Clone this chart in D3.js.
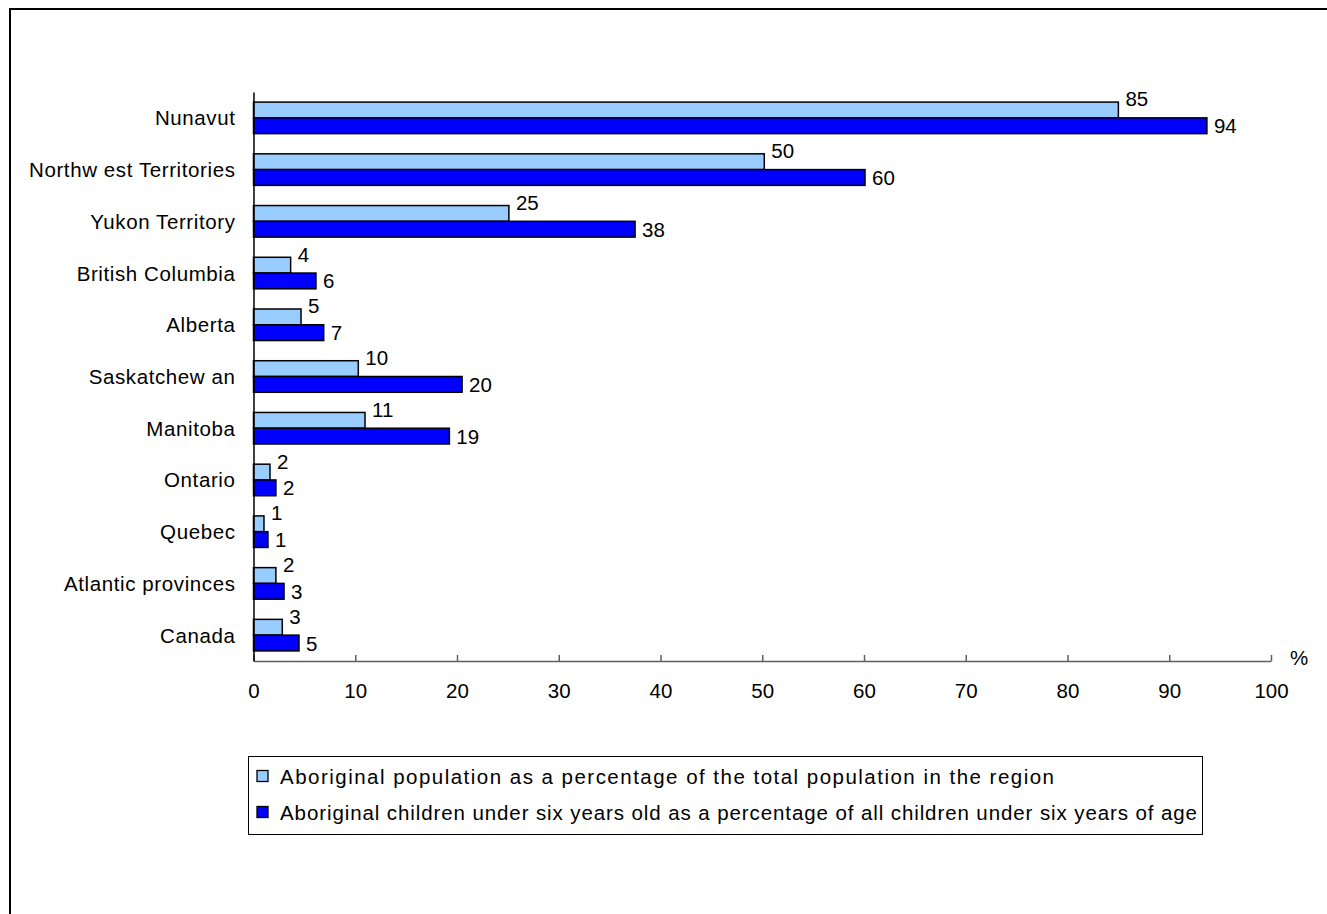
<!DOCTYPE html>
<html>
<head>
<meta charset="utf-8">
<script src="https://cdn.jsdelivr.net/npm/d3@7"></script>
<style>
  html, body { margin: 0; padding: 0; background: #fff; }
  svg { display: block; font-family: "Liberation Sans", Arial, sans-serif; }
</style>
</head>
<body>
<svg id="chart" width="1327" height="914"></svg>
<script>
// ---- data ----
const categories = ["Nunavut", "Northw est Territories", "Yukon Territory", "British Columbia", "Alberta",
  "Saskatchew an", "Manitoba", "Ontario", "Quebec", "Atlantic provinces", "Canada"];
const seriesNames = [
  "Aboriginal population as a percentage of the total population in the region",
  "Aboriginal children under six years old as a percentage of all children under six years of age"
];
const populationValues = [85.0, 50.2, 25.1, 3.65, 4.67, 10.3, 10.96, 1.62, 1.03, 2.2, 2.83];
const childrenValues   = [93.7, 60.1, 37.5, 6.14, 6.9, 20.5, 19.25, 2.2, 1.42, 3.0, 4.47];
const populationLabels = ["85", "50", "25", "4", "5", "10", "11", "2", "1", "2", "3"];
const childrenLabels   = ["94", "60", "38", "6", "7", "20", "19", "2", "1", "3", "5"];
const xTicks = [0, 10, 20, 30, 40, 50, 60, 70, 80, 90, 100];
const seriesColors = ["#99CCFF", "#0000FF"];

const svg = d3.select("#chart");
const FONT = 20.5;
const FAMILY = "'Liberation Sans', Arial, sans-serif";

// outer frame (only top/left visible in reference)
svg.append("rect").attr("x", 10).attr("y", 9).attr("width", 1400).attr("height", 1000)
  .attr("fill", "none").attr("stroke", "#000").attr("stroke-width", 2);

const x = d3.scaleLinear().domain([0, 100]).range([253.5, 1271]);
const y0 = d3.scaleBand().domain(categories).range([92, 661]).paddingInner(0.39).paddingOuter(0.195);
const y1 = d3.scaleBand().domain([0, 1]).range([0, y0.bandwidth()]);

const series = [
  { values: populationValues, labels: populationLabels, color: seriesColors[0], dy: -11 },
  { values: childrenValues, labels: childrenLabels, color: seriesColors[1], dy: 0 }
];

// bars
series.forEach((s, si) => {
  const g = svg.append("g");
  g.selectAll("rect").data(categories).join("rect")
    .attr("x", x(0))
    .attr("y", c => y0(c) + y1(si))
    .attr("width", (c, i) => x(s.values[i]) - x(0))
    .attr("height", y1.bandwidth())
    .attr("fill", s.color)
    .attr("stroke", "#000")
    .attr("stroke-width", 1.5);
  g.selectAll("text").data(categories).join("text")
    .attr("x", (c, i) => x(s.values[i]) + 7)
    .attr("y", c => y0(c) + y1(si) + y1.bandwidth() / 2 + s.dy)
    .attr("dominant-baseline", "central")
    .attr("font-size", FONT)
    .attr("fill", "#000")
    .text((c, i) => s.labels[i]);
});

// x axis
const xAxis = svg.append("g").attr("transform", "translate(0,661)")
  .call(d3.axisBottom(x).tickValues(xTicks).tickSizeInner(-6).tickSizeOuter(0).tickPadding(0));
xAxis.select(".domain").attr("stroke", "#606060").attr("stroke-width", 1.5);
xAxis.selectAll(".tick line").attr("stroke", "#606060").attr("stroke-width", 1.5);
xAxis.selectAll(".tick text").attr("font-size", FONT).attr("fill", "#000")
  .attr("font-family", FAMILY)
  .attr("dy", null).attr("y", 29).attr("dominant-baseline", "central");

svg.append("text").attr("x", 1290).attr("y", 657).attr("dominant-baseline", "central")
  .attr("font-size", FONT).text("%");

// y axis
const yAxis = svg.append("g").attr("transform", `translate(${x(0)},0)`)
  .call(d3.axisLeft(y0).tickSize(0).tickPadding(18));
yAxis.select(".domain").attr("stroke", "#000").attr("stroke-width", 1.5);
yAxis.selectAll(".tick text").attr("font-size", FONT).attr("fill", "#000")
  .attr("font-family", FAMILY).attr("letter-spacing", 0.6)
  .attr("dy", null).attr("dominant-baseline", "central");

// legend
const legend = svg.append("g");
legend.append("rect").attr("x", 248.5).attr("y", 756.5).attr("width", 954).attr("height", 78)
  .attr("fill", "#fff").attr("stroke", "#000").attr("stroke-width", 1);
const rowY = [776, 812];
const rowLen = [774, 917];
seriesNames.forEach((name, i) => {
  legend.append("rect").attr("x", 257).attr("y", rowY[i] - 5.5).attr("width", 11).attr("height", 11)
    .attr("fill", seriesColors[i]).attr("stroke", "#000").attr("stroke-width", 1.3);
  legend.append("text").attr("x", 280).attr("y", rowY[i]).attr("dominant-baseline", "central")
    .attr("font-size", FONT).attr("textLength", rowLen[i]).attr("lengthAdjust", "spacing")
    .text(name);
});
</script>
</body>
</html>
